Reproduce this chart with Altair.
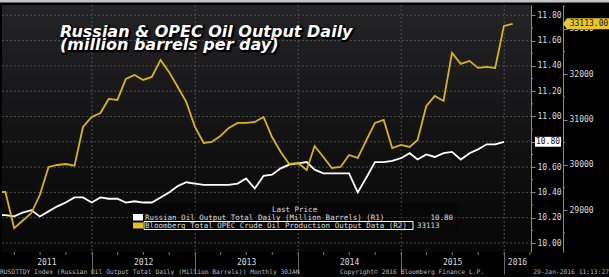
import altair as alt
import pandas as pd

# ---------------- data ----------------
# Russian oil output total daily (million barrels), month-ends Jan-2011 .. Dec-2015
russia_output = [10.22, 10.22, 10.21, 10.24, 10.26, 10.21, 10.25, 10.29, 10.32, 10.36,
                 10.36, 10.32, 10.36, 10.35, 10.35, 10.32, 10.33, 10.32, 10.32, 10.36,
                 10.40, 10.45, 10.48, 10.47, 10.46, 10.46, 10.46, 10.46, 10.47, 10.51,
                 10.43, 10.53, 10.54, 10.59, 10.62, 10.63, 10.64, 10.58, 10.55, 10.55,
                 10.55, 10.55, 10.40, 10.52, 10.64, 10.64, 10.65, 10.67, 10.71, 10.66,
                 10.70, 10.68, 10.71, 10.72, 10.66, 10.71, 10.74, 10.78, 10.78, 10.80]
# Bloomberg total OPEC crude oil production (thousand barrels/day), Jan-2011 .. Jan-2016
opec_output = [29404, 29404, 28609, 28770, 28940, 29338, 29956, 30000, 30022, 29985,
               30839, 31060, 31148, 31457, 31435, 31898, 31987, 31876, 31943, 32318,
               32053, 31722, 31391, 30839, 30486, 30508, 30640, 30817, 30927, 30927,
               30949, 31060, 30618, 30287, 30022, 30044, 29890, 30419, 30177, 29934,
               29956, 30221, 30155, 30552, 30927, 30993, 30375, 30442, 30397, 30552,
               31302, 31523, 31413, 32472, 32230, 32296, 32141, 32163, 32141, 33068,
               33113]
r1_ticks = [10.0, 10.2, 10.4, 10.6, 10.8, 11.0, 11.2, 11.4, 11.6, 11.8]
r1_minor = [10.1, 10.3, 10.5, 10.7, 10.9, 11.1, 11.3, 11.5, 11.7]
r2_ticks = [29000, 30000, 31000, 32000, 33000]
r2_minor = [28500, 29500, 30500, 31500, 32500, 33500]
years = [2011, 2012, 2013, 2014, 2015, 2016]
year_labels = ["2011", "2012", "2013", "2014", "2015", "2016"]
title_lines = ["Russian & OPEC Oil Output Daily", "(million barrels per day)"]
legend_header = "Last Price"
legend_names = ["Russian Oil Output Total Daily (Million Barrels)  (R1)",
                "Bloomberg Total OPEC Crude Oil Production Output Data  (R2)"]
legend_values = ["10.80", "33113"]
tag_texts = ["10.80", "33113.00"]
footer_left = "RUSOTTDY Index (Russian Oil Output Total Daily (Million Barrels))  Monthly 30JAN"
footer_mid = "Copyright\u00a9 2016 Bloomberg Finance L.P."
footer_right = "29-Jan-2016 11:13:27"

# ---------------- frames ----------------
fmt = "%Y-%m-%dT00:00:00"
month_ends = pd.date_range("2011-01-01", periods=len(opec_output), freq="MS") + pd.offsets.MonthEnd(0)
opec_df = pd.DataFrame({"date": [d.strftime(fmt) for d in month_ends], "opec": opec_output})
russia_df = pd.DataFrame({"date": [d.strftime(fmt) for d in month_ends[:len(russia_output)]],
                          "russia": russia_output})

x_start = pd.Timestamp("2011-02-16")
x_end = pd.Timestamp("2016-04-05")

year_starts = pd.DataFrame({"date": [pd.Timestamp(f"{y}-01-01").strftime(fmt) for y in years[1:]]})
mids = []
for y in years:
    lo = max(pd.Timestamp(f"{y}-01-01"), x_start)
    hi = min(pd.Timestamp(f"{y + 1}-01-01"), x_end)
    mids.append((lo + (hi - lo) / 2).strftime(fmt))
year_df = pd.DataFrame({"date": mids, "label": year_labels})
quarters = pd.DataFrame({"date": [d.strftime(fmt) for d in
                                  pd.date_range("2011-04-01", "2016-04-01", freq="QS")]})
r1_df = pd.DataFrame({"v": r1_ticks})
r1m_df = pd.DataFrame({"v": r1_minor})
r2m_df = pd.DataFrame({"v": r2_minor})
one = pd.DataFrame({"a": [0]})
last_r = pd.DataFrame({"v": [russia_output[-1]], "t": [tag_texts[0]]})
last_o = pd.DataFrame({"v": [opec_output[-1]], "t": [tag_texts[1]]})

W, H = 529, 247
MONO = "DejaVu Sans Mono"

xscale = alt.Scale(domain=[alt.DateTime(year=2011, month=2, date=16),
                           alt.DateTime(year=2016, month=4, date=5)])
xaxis = alt.Axis(values=[alt.DateTime(year=y, month=1, date=1) for y in years[1:]],
                 labels=False, grid=False, domain=False, ticks=True, tickSize=22,
                 tickColor="#6a6a6a", tickWidth=1, title=None)
X = alt.X("date:T", scale=xscale, axis=xaxis)

r1scale = alt.Scale(domain=[9.929, 11.881], zero=False, nice=False)
r2scale = alt.Scale(domain=[28081, 33529], zero=False, nice=False)
r1axis = alt.Axis(orient="right", values=r1_ticks, format=".2f", grid=False,
                  domainColor="#8a8a8a", tickColor="#8a8a8a", tickSize=4,
                  labelColor="#dddddd", labelFont=MONO, labelFontSize=8,
                  labelPadding=2, title=None)
r2axis = alt.Axis(orient="right", offset=32, values=r2_ticks, format="d", grid=False,
                  domainColor="#8a8a8a", tickColor="#8a8a8a", tickSize=4,
                  labelColor="#dddddd", labelFont=MONO, labelFontSize=8,
                  labelPadding=2, title=None)

gradient = alt.Gradient(gradient="linear",
                        stops=[alt.GradientStop(color="#242426", offset=0),
                               alt.GradientStop(color="#101011", offset=0.6),
                               alt.GradientStop(color="#070707", offset=1)],
                        x1=0, x2=0, y1=0, y2=1)

bg = alt.Chart(one).mark_rect(color=gradient).encode(
    x=alt.value(0), x2=alt.value(W), y=alt.value(0), y2=alt.value(H))

vgrid = alt.Chart(year_starts).mark_rule(color="#505050", strokeDash=[2, 2], strokeWidth=1).encode(
    x=X, y=alt.value(0), y2=alt.value(H))
hgrid = alt.Chart(r1_df).mark_rule(color="#505050", strokeDash=[2, 2], strokeWidth=1).encode(
    y=alt.Y("v:Q", scale=r1scale, axis=None), x=alt.value(0), x2=alt.value(W))
r1minor = alt.Chart(r1m_df).mark_rule(color="#8a8a8a").encode(
    y=alt.Y("v:Q", scale=r1scale, axis=None), x=alt.value(W), x2=alt.value(W + 2))
r2minor = alt.Chart(r2m_df).mark_rule(color="#8a8a8a").encode(
    y=alt.Y("v:Q", scale=r2scale, axis=None), x=alt.value(W + 32), x2=alt.value(W + 34))
qticks = alt.Chart(quarters).mark_rule(color="#777777").encode(
    x=X, y=alt.value(H), y2=alt.value(H + 3))

legend_bg = alt.Chart(one).mark_rect(color="#000000", opacity=0.35).encode(
    x=alt.value(127), x2=alt.value(457), y=alt.value(198), y2=alt.value(227))

russia_line = alt.Chart(russia_df).mark_line(color="#ffffff", strokeWidth=1.8, clip=True).encode(
    x=X, y=alt.Y("russia:Q", scale=r1scale, axis=r1axis))
opec_line = alt.Chart(opec_df).mark_line(color="#d8b418", strokeWidth=1.8, clip=True).encode(
    x=X, y=alt.Y("opec:Q", scale=r2scale, axis=r2axis))

tfont = dict(font="DejaVu Sans", fontSize=16, fontWeight="bold", fontStyle="italic",
             align="left", baseline="alphabetic")
title_layers = []
for txt, tx, ty in [(title_lines[0], 58, 32), (title_lines[1], 58, 45)]:
    title_layers.append(alt.Chart(one).mark_text(color="#000000", stroke="#000000", strokeWidth=2.5,
                                                 dx=1, dy=1, **tfont).encode(
        x=alt.value(tx), y=alt.value(ty), text=alt.value(txt)))
    title_layers.append(alt.Chart(one).mark_text(color="#ffffff", **tfont).encode(
        x=alt.value(tx), y=alt.value(ty), text=alt.value(txt)))

lfont = dict(font=MONO, fontSize=7.5, baseline="middle")
leg = [
    alt.Chart(one).mark_text(color="#dddddd", align="left", **lfont).encode(
        x=alt.value(270), y=alt.value(205), text=alt.value(legend_header)),
    alt.Chart(one).mark_rect(color="#ffffff").encode(
        x=alt.value(131), x2=alt.value(141), y=alt.value(209), y2=alt.value(215.5)),
    alt.Chart(one).mark_rect(color="#e3c21f").encode(
        x=alt.value(131), x2=alt.value(141), y=alt.value(217.5), y2=alt.value(223.5)),
    alt.Chart(one).mark_rect(fill="transparent", stroke="#ffffff", strokeWidth=1).encode(
        x=alt.value(142), x2=alt.value(411), y=alt.value(216.5), y2=alt.value(224.5)),
    alt.Chart(one).mark_text(color="#dddddd", align="left", **lfont).encode(
        x=alt.value(143), y=alt.value(212.5), text=alt.value(legend_names[0])),
    alt.Chart(one).mark_text(color="#dddddd", align="left", **lfont).encode(
        x=alt.value(143), y=alt.value(220.5), text=alt.value(legend_names[1])),
    alt.Chart(one).mark_text(color="#dddddd", align="right", **lfont).encode(
        x=alt.value(451), y=alt.value(212.5), text=alt.value(legend_values[0])),
    alt.Chart(one).mark_text(color="#dddddd", align="left", **lfont).encode(
        x=alt.value(415), y=alt.value(220.5), text=alt.value(legend_values[1])),
]

tag_r_box = alt.Chart(last_r).mark_point(shape="M-1,-0.38L1,-0.38L1,0.38L-1,0.38Z", filled=True,
                                         color="#ffffff", opacity=1, size=676).encode(
    x=alt.value(546), y=alt.Y("v:Q", scale=r1scale, axis=None))
tag_r_txt = alt.Chart(last_r).mark_text(font=MONO, fontSize=8, color="#111111", align="center",
                                        baseline="middle").encode(
    x=alt.value(546), y=alt.Y("v:Q", scale=r1scale, axis=None), text="t:N")
tag_o_box = alt.Chart(last_o).mark_point(shape="M-1,0L-0.84,-0.22L1,-0.22L1,0.22L-0.84,0.22Z",
                                         filled=True, color="#e6c62e", opacity=1, size=2500).encode(
    x=alt.value(586), y=alt.Y("v:Q", scale=r2scale, axis=None))
tag_o_txt = alt.Chart(last_o).mark_text(font=MONO, fontSize=8, color="#222222", align="center",
                                        baseline="middle").encode(
    x=alt.value(587), y=alt.Y("v:Q", scale=r2scale, axis=None), text="t:N")

year_text = alt.Chart(year_df).mark_text(font=MONO, fontSize=8, color="#dddddd",
                                         baseline="middle").encode(
    x=X, y=alt.value(258), text="label:N")

ffont = dict(font=MONO, fontSize=6.3, color="#bbbbbb", baseline="middle")
footer = [
    alt.Chart(one).mark_text(align="left", **ffont).encode(
        x=alt.value(-2), y=alt.value(267), text=alt.value(footer_left)),
    alt.Chart(one).mark_text(align="left", **ffont).encode(
        x=alt.value(338), y=alt.value(267), text=alt.value(footer_mid)),
    alt.Chart(one).mark_text(align="right", **ffont).encode(
        x=alt.value(607), y=alt.value(267), text=alt.value(footer_right)),
]
top_border = alt.Chart(one).mark_rule(color="#c4c4c4", strokeWidth=3).encode(
    x=alt.value(-2), x2=alt.value(607), y=alt.value(-4))

chart = alt.layer(
    bg, vgrid, hgrid, r1minor, r2minor, qticks, legend_bg,
    russia_line, opec_line,
    *title_layers, *leg,
    tag_r_box, tag_r_txt, tag_o_box, tag_o_txt,
    year_text, *footer, top_border,
).resolve_scale(y="independent").properties(
    width=W, height=H,
    autosize=alt.AutoSizeParams(type="none"),
    padding={"left": 2, "top": 5, "right": 78, "bottom": 25},
    background="#000000",
).configure_view(stroke=None)

chart.save("out.html", embed_options={"renderer": "svg", "actions": False})
